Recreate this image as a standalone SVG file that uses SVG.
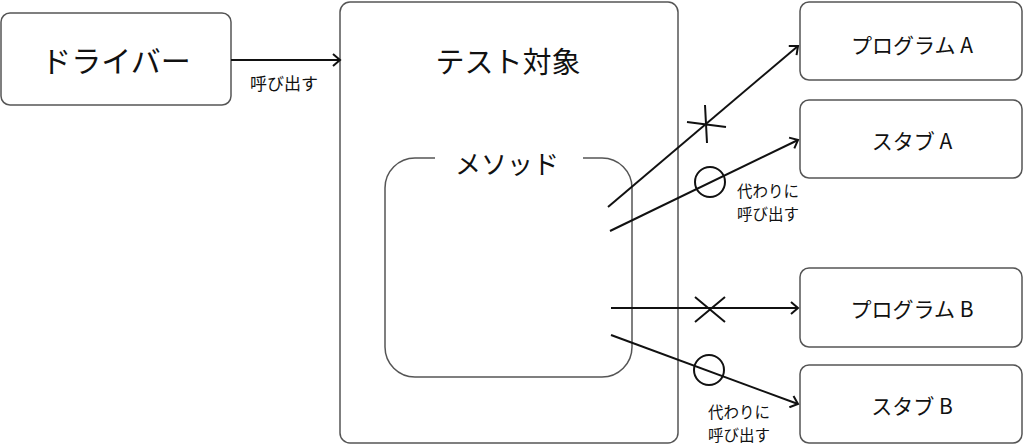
<svg xmlns="http://www.w3.org/2000/svg" width="1024" height="446" viewBox="0 0 1024 446">
<defs>
<style>
.box{fill:#fff;stroke:#555;stroke-width:1.5}
.t{font-family:"Noto Sans CJK JP","Noto Sans",sans-serif;fill:#111;text-anchor:middle;dominant-baseline:central}
.c{stroke:#111;stroke-width:2;fill:none}
.m{stroke:#111;stroke-width:2;fill:none}
</style>
<marker id="arr" markerWidth="14" markerHeight="14" refX="10" refY="7" orient="auto" markerUnits="userSpaceOnUse">
<path d="M3,1 L10,7 L3,13" fill="none" stroke="#111" stroke-width="2"/>
</marker>
</defs>
<rect width="1024" height="446" fill="#fff"/>
<g id="driver">
<rect class="box" x="1" y="13" width="230" height="92" rx="9" stroke="#333"/>
<text class="t" x="116" y="59" font-size="30">ドライバー</text>
</g>
<g id="test-target">
<rect class="box" x="340" y="2" width="338" height="441" rx="10"/>
<text class="t" x="508" y="60" font-size="29">テスト対象</text>
</g>
<g id="method">
<path class="box" fill="none" d="M435,158 H415 A30,30 0 0 0 385,188 V347 A30,30 0 0 0 415,377 H602 A30,30 0 0 0 632,347 V188 A30,30 0 0 0 602,158 H583"/>
<text class="t" x="507" y="162" font-size="26">メソッド</text>
</g>
<g id="program-a">
<rect class="box" x="800" y="2" width="222" height="78" rx="9"/>
<text class="t" x="912" y="44" font-size="21">プログラム A</text>
</g>
<g id="stub-a">
<rect class="box" x="800" y="100" width="222" height="78" rx="9"/>
<text class="t" x="912" y="140" font-size="21">スタブ A</text>
</g>
<g id="program-b">
<rect class="box" x="800" y="268" width="222" height="79" rx="9"/>
<text class="t" x="912" y="308" font-size="21">プログラム B</text>
</g>
<g id="stub-b">
<rect class="box" x="800" y="365" width="222" height="78" rx="9"/>
<text class="t" x="912" y="405" font-size="21">スタブ B</text>
</g>
<g id="connectors">
<line class="c" x1="231" y1="60" x2="340" y2="60" marker-end="url(#arr)"/>
<text class="t" x="284" y="82" font-size="17">呼び出す</text>
<line class="c" x1="608" y1="207" x2="798" y2="46" marker-end="url(#arr)"/>
<path class="m" d="M687,122 L726,127 M705,105 L707,143" stroke-width="2.4"/>
<line class="c" x1="610" y1="231" x2="798" y2="140" marker-end="url(#arr)"/>
<circle class="m" cx="710" cy="182" r="15" stroke-width="1.6"/>
<text class="t" x="768" y="190" font-size="15.5">代わりに</text>
<text class="t" x="768" y="213" font-size="15.5">呼び出す</text>
<line class="c" x1="611" y1="308" x2="798" y2="308" marker-end="url(#arr)"/>
<path class="m" d="M695,297 L725,322 M725,297 L695,322" stroke-width="2.2"/>
<line class="c" x1="611" y1="335" x2="798" y2="404" marker-end="url(#arr)"/>
<circle class="m" cx="709" cy="370" r="15" stroke-width="1.6"/>
<text class="t" x="739" y="411" font-size="15.5">代わりに</text>
<text class="t" x="739" y="434" font-size="15.5">呼び出す</text>
</g>
</svg>
